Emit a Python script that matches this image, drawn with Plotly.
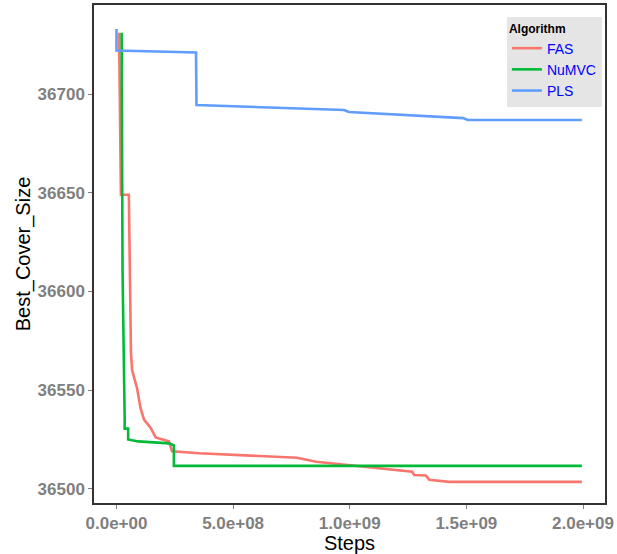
import plotly.graph_objects as go

# ---- data ----
fas_steps = [1.1e7, 1.9e7, 5.3e7, 6.2e7, 6.7e7, 8.8e7, 1.03e8, 1.18e8, 1.46e8, 1.68e8, 2.25e8, 2.38e8,
             3.54e8, 5.81e8, 7.74e8, 8.56e8, 1.156e9, 1.268e9, 1.276e9, 1.326e9, 1.341e9, 1.426e9, 1.995e9]
fas_size = [36731, 36649, 36649, 36569, 36560, 36551, 36541, 36535, 36531, 36526, 36524, 36519,
            36518, 36516.6, 36515.7, 36513.7, 36510, 36508.6, 36507, 36506.7, 36504.6, 36503.5, 36503.5]

numvc_steps = [2.2e7, 2.4e7, 2.6e7, 3.5e7, 3.5e7, 5.0e7, 5.0e7, 9.3e7, 2.25e8, 2.46e8, 2.46e8, 1.995e9]
numvc_size = [36731, 36650, 36610, 36536, 36530.5, 36530.5, 36525, 36524, 36523, 36522, 36511.6, 36511.6]

pls_steps = [0, 0, 3.41e8, 3.43e8, 9.76e8, 9.96e8, 1.486e9, 1.506e9, 1.995e9]
pls_size = [36733, 36722, 36721, 36694.4, 36691.9, 36690.9, 36687.8, 36686.8, 36686.8]

x_ticks = [0, 5e8, 1e9, 1.5e9, 2e9]
x_tick_labels = ["0.0e+00", "5.0e+08", "1.0e+09", "1.5e+09", "2.0e+09"]
y_ticks = [36500, 36550, 36600, 36650, 36700]
y_tick_labels = ["36500", "36550", "36600", "36650", "36700"]

series = [
    ("FAS", fas_steps, fas_size, "#F8766D"),
    ("NuMVC", numvc_steps, numvc_size, "#00BA38"),
    ("PLS", pls_steps, pls_size, "#619CFF"),
]

fig = go.Figure()
for name, xs, ys, col in series:
    fig.add_trace(go.Scatter(x=xs, y=ys, mode="lines", name=name,
                             line=dict(color=col, width=2.6)))

FONT = "Liberation Sans, Arial"
axis_common = dict(showgrid=False, zeroline=False, showline=True, linecolor="#333333",
                   linewidth=1.5, mirror=True, ticks="outside", ticklen=4, tickwidth=1.2,
                   tickcolor="#7f7f7f", automargin=False,
                   tickfont=dict(family=FONT, size=17, color="#7f7f7f", weight="bold"))

fig.update_layout(
    width=617, height=554,
    margin=dict(l=94, r=12, t=5, b=51),
    plot_bgcolor="white", paper_bgcolor="white",
    xaxis=dict(range=[-9.64e7, 2.0943e9], tickvals=x_ticks, ticktext=x_tick_labels,
               title=dict(text="Steps", standoff=3,
                          font=dict(family=FONT, size=20, color="black")),
               **axis_common),
    yaxis=dict(range=[36492.8, 36745.1], tickvals=y_ticks, ticktext=y_tick_labels,
               title=dict(text="Best_Cover_Size", standoff=2,
                          font=dict(family=FONT, size=20, color="black")),
               **axis_common),
    legend=dict(x=0.808, y=0.976, xanchor="left", yanchor="top", bgcolor="#e5e5e5",
                title=dict(text="<b>Algorithm</b>",
                           font=dict(family=FONT, size=12, color="black")),
                font=dict(family=FONT, size=14, color="blue"),
                itemwidth=30, tracegroupgap=0),
    showlegend=True,
)

fig.write_html("out.html")
